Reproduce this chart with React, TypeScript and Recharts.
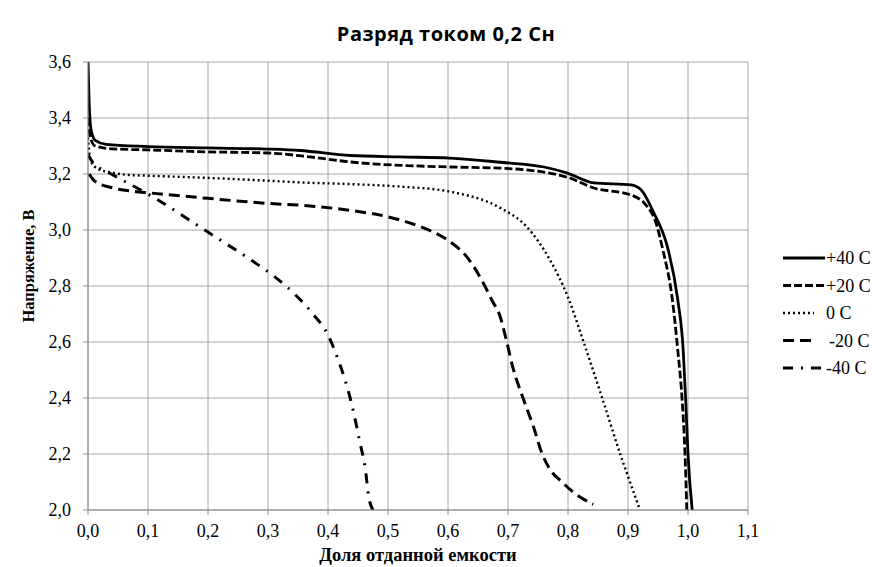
import React from 'react';
import { LineChart, Line, XAxis, YAxis, CartesianGrid, Legend, Label } from 'recharts';

// Разряд током 0,2 Сн — доля отданной емкости (x) / напряжение, В (y)
const xTicks = [0, 0.1, 0.2, 0.3, 0.4, 0.5, 0.6, 0.7, 0.8, 0.9, 1.0, 1.1];
const yTicks = [2.0, 2.2, 2.4, 2.6, 2.8, 3.0, 3.2, 3.4, 3.6];

const plus40: [number, number][] = [
    [0, 3.6], [0.002, 3.45], [0.005, 3.36], [0.012, 3.32], [0.03, 3.306], [0.1, 3.298],
    [0.2, 3.293], [0.3, 3.289], [0.353, 3.284], [0.437, 3.266], [0.52, 3.261], [0.603, 3.257],
    [0.687, 3.242], [0.76, 3.225], [0.798, 3.204], [0.843, 3.168], [0.905, 3.161], [0.922, 3.143],
    [0.943, 3.061], [0.967, 2.929], [0.983, 2.75], [0.992, 2.571], [0.996, 2.4], [1.0, 2.2], [1.007, 2.0],
];
const plus20: [number, number][] = [
    [0, 3.4], [0.004, 3.33], [0.012, 3.3], [0.04, 3.29], [0.1, 3.286], [0.2, 3.279],
    [0.3, 3.275], [0.37, 3.261], [0.437, 3.243], [0.603, 3.225], [0.687, 3.221], [0.798, 3.189],
    [0.843, 3.15], [0.905, 3.125], [0.93, 3.089], [0.945, 3.036], [0.958, 2.93], [0.974, 2.75],
    [0.983, 2.57], [0.99, 2.4], [0.995, 2.2], [0.998, 2.0],
];
const zeroC: [number, number][] = [
    [0, 3.33], [0.004, 3.25], [0.015, 3.22], [0.04, 3.205], [0.065, 3.197], [0.1, 3.194],
    [0.2, 3.186], [0.3, 3.176], [0.353, 3.17], [0.437, 3.164], [0.52, 3.155], [0.603, 3.137],
    [0.687, 3.079], [0.731, 3.012], [0.77, 2.893], [0.8, 2.76], [0.826, 2.6], [0.857, 2.4],
    [0.887, 2.2], [0.9, 2.12], [0.92, 2.0],
];
const minus20: [number, number][] = [
    [0.002, 3.2], [0.012, 3.173], [0.042, 3.15], [0.08, 3.137], [0.1, 3.133], [0.2, 3.113],
    [0.3, 3.095], [0.37, 3.086], [0.437, 3.07], [0.5, 3.047], [0.55, 3.015], [0.6, 2.963],
    [0.631, 2.905], [0.659, 2.81], [0.673, 2.75], [0.687, 2.69], [0.698, 2.6], [0.708, 2.51],
    [0.725, 2.4], [0.742, 2.3], [0.757, 2.2], [0.77, 2.145], [0.79, 2.1], [0.808, 2.065], [0.842, 2.02],
];
const minus40: [number, number][] = [
    [0, 3.27], [0.009, 3.238], [0.026, 3.214], [0.042, 3.196], [0.06, 3.175], [0.098, 3.131],
    [0.203, 2.988], [0.275, 2.888], [0.31, 2.835], [0.345, 2.77], [0.375, 2.7], [0.4, 2.625],
    [0.417, 2.536], [0.432, 2.439], [0.443, 2.346], [0.453, 2.243], [0.462, 2.15], [0.468, 2.046],
    [0.475, 2.0],
];

const seriesNames = ['+40 C', '+20 C', '0 C', '-20 C', '-40 C'];
const seriesPoints = [plus40, plus20, zeroC, minus20, minus40];

// line styles, same order as the names
const lineStyles = [
    { dash: undefined, width: 2.8, legendLen: 42, textX: 43 },
    { dash: '8 3', width: 2.8, legendLen: 42, textX: 43 },
    { dash: '2 3', width: 2.4, legendLen: 31, textX: 43 },
    { dash: '11 6', width: 3, legendLen: 28, textX: 46 },
    { dash: '10 8 2 8', width: 3, legendLen: 42, textX: 43 },
];

const toRows = (pts: [number, number][]) => pts.map(([x, v]) => ({ x, v }));
const fmt = (v: number) => v.toFixed(1).replace('.', ',');

const serif = '"Liberation Serif", "Times New Roman", serif';

const renderLegend = () => (
    <svg width={100} height={135}>
        {seriesNames.map((name, i) => {
            const y = 14 + i * 27.5;
            const st = lineStyles[i];
            return (
                <g key={name}>
                    <line x1={0} x2={st.legendLen} y1={y} y2={y} stroke="#000" strokeWidth={st.width} strokeDasharray={st.dash} />
                    <text x={st.textX} y={y + 6} fontFamily={serif} fontSize={18} fill="#000">{name}</text>
                </g>
            );
        })}
    </svg>
);

const App: React.FC = () => {
    return (
        <div style={{ position: 'fixed', left: 0, top: 0, width: 872, height: 567, background: '#fff' }}>
            <div style={{ position: 'absolute', left: 0, width: 892, top: 20, textAlign: 'center', fontFamily: '"Open Sans", "Liberation Sans", sans-serif', fontWeight: 'bold', fontSize: 20, lineHeight: '28px', color: '#000', letterSpacing: 0.5 }}>
                Разряд током 0,2 Сн
            </div>
            <LineChart width={872} height={567} margin={{ top: 62, right: 124, left: 0, bottom: 0 }}>
                <CartesianGrid stroke="#a6a6a6" horizontalValues={yTicks} verticalValues={xTicks} />
                <XAxis
                    type="number"
                    dataKey="x"
                    domain={[0, 1.1]}
                    ticks={xTicks}
                    tickFormatter={fmt}
                    height={57}
                    stroke="#8c8c8c"
                    tickSize={5}
                    tickMargin={9}
                    tick={{ fill: '#000', fontFamily: serif, fontSize: 18 }}
                    allowDataOverflow
                >
                    <Label
                        content={() => (
                            <text x={418} y={561} textAnchor="middle" fontFamily={serif} fontWeight="bold" fontSize={18.5} fill="#000">
                                Доля отданной емкости
                            </text>
                        )}
                    />
                </XAxis>
                <YAxis
                    type="number"
                    domain={[2, 3.6]}
                    ticks={yTicks}
                    tickFormatter={fmt}
                    width={88}
                    stroke="#8c8c8c"
                    tickSize={5}
                    tickMargin={12}
                    tick={{ fill: '#000', fontFamily: serif, fontSize: 18 }}
                    allowDataOverflow
                >
                    <Label
                        content={() => (
                            <text x={28} y={266} transform="rotate(-90 28 266)" dy={6} textAnchor="middle" fontFamily={serif} fontWeight="bold" fontSize={16.5} fill="#000">
                                Напряжение, В
                            </text>
                        )}
                    />
                </YAxis>
                <Legend
                    verticalAlign="middle"
                    align="center"
                    layout="horizontal"
                    content={renderLegend}
                    wrapperStyle={{ left: 783, top: 244, width: 100, height: 135 }}
                />
                {seriesPoints.map((pts, i) => (
                    <Line
                        key={seriesNames[i]}
                        name={seriesNames[i]}
                        data={toRows(pts)}
                        dataKey="v"
                        type="monotone"
                        stroke="#000"
                        strokeWidth={lineStyles[i].width}
                        strokeDasharray={lineStyles[i].dash}
                        dot={false}
                        activeDot={false}
                        isAnimationActive={false}
                    />
                ))}
            </LineChart>
        </div>
    );
};

export default App;
